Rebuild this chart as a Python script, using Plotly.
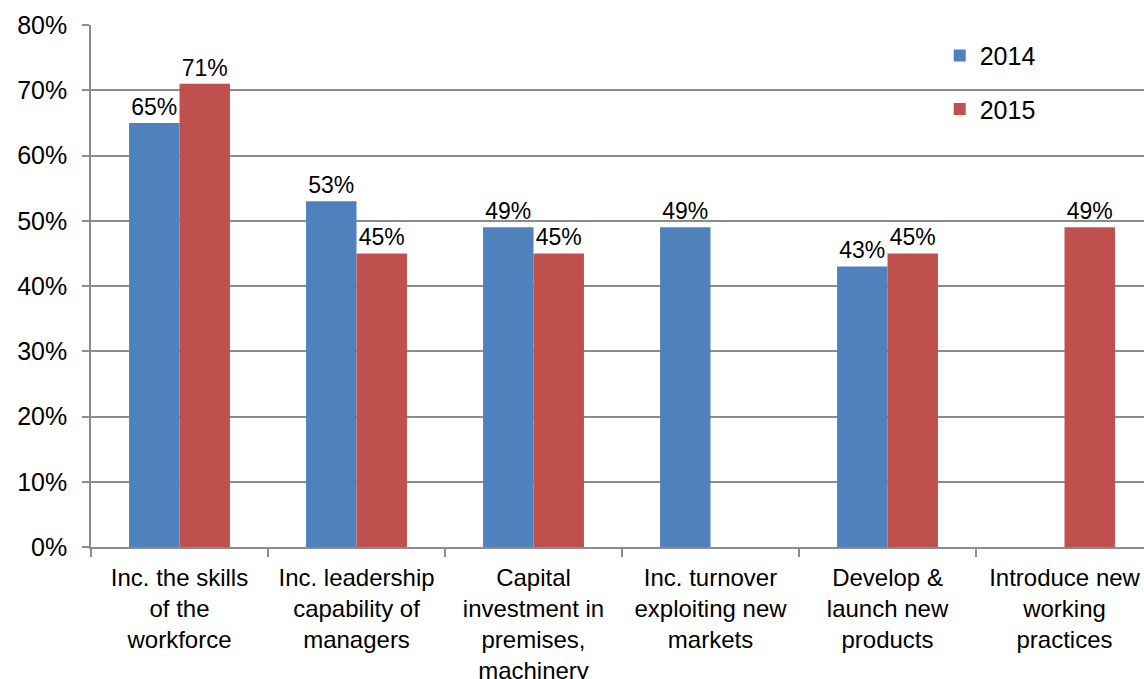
import plotly.graph_objects as go

categories = [
    "Inc. the skills<br>of the<br>workforce",
    "Inc. leadership<br>capability of<br>managers",
    "Capital<br>investment in<br>premises,<br>machinery",
    "Inc. turnover<br>exploiting new<br>markets",
    "Develop &<br>launch new<br>products",
    "Introduce new<br>working<br>practices",
]
values_2014 = [65, 53, 49, 49, 43, None]
values_2015 = [71, 45, 45, None, 45, 49]

BLUE = "#4F81BD"
RED = "#C0504D"
GRID = "#8c8c8c"
FONT = "Liberation Sans, Arial, sans-serif"

fig = go.Figure()
for name, vals, color in [("2014", values_2014, BLUE), ("2015", values_2015, RED)]:
    fig.add_trace(go.Bar(
        x=categories,
        y=vals,
        name=name,
        legendgroup=name,
        marker=dict(color=color, line=dict(width=0)),
        text=[f"{v}%" if v is not None else "" for v in vals],
        textposition="outside",
        textfont=dict(family=FONT, size=23, color="#000000"),
        cliponaxis=False,
    ))

fig.update_layout(
    width=1144,
    height=679,
    margin=dict(l=91, r=0, t=25, b=132),
    paper_bgcolor="white",
    plot_bgcolor="white",
    barmode="group",
    bargap=0.43,
    bargroupgap=0,
    font=dict(family=FONT, size=25, color="#000000"),
    showlegend=True,
    legend=dict(
        x=0.806, y=0.985, xanchor="left", yanchor="top",
        font=dict(family=FONT, size=25, color="#000000"),
        tracegroupgap=18,
        itemwidth=30,
        bgcolor="rgba(0,0,0,0)",
    ),
    xaxis=dict(
        range=[-0.5, 5.449],
        automargin=False,
        showline=True, linecolor=GRID, linewidth=1.5,
        ticks="outside", tickson="boundaries", ticklen=8, tickcolor=GRID, tickwidth=1.5,
        ticklabelstandoff=8,
        showgrid=False,
        tickfont=dict(family=FONT, size=24, color="#000000"),
    ),
    yaxis=dict(
        range=[0, 80],
        dtick=10,
        ticksuffix="%",
        automargin=False,
        showline=True, linecolor=GRID, linewidth=1.5,
        ticks="outside", ticklen=7, tickcolor=GRID, tickwidth=1.5,
        ticklabelstandoff=10,
        showgrid=True, gridcolor=GRID, gridwidth=1.5,
        zeroline=False,
        tickfont=dict(family=FONT, size=25, color="#000000"),
    ),
)

fig.write_html("out.html")
